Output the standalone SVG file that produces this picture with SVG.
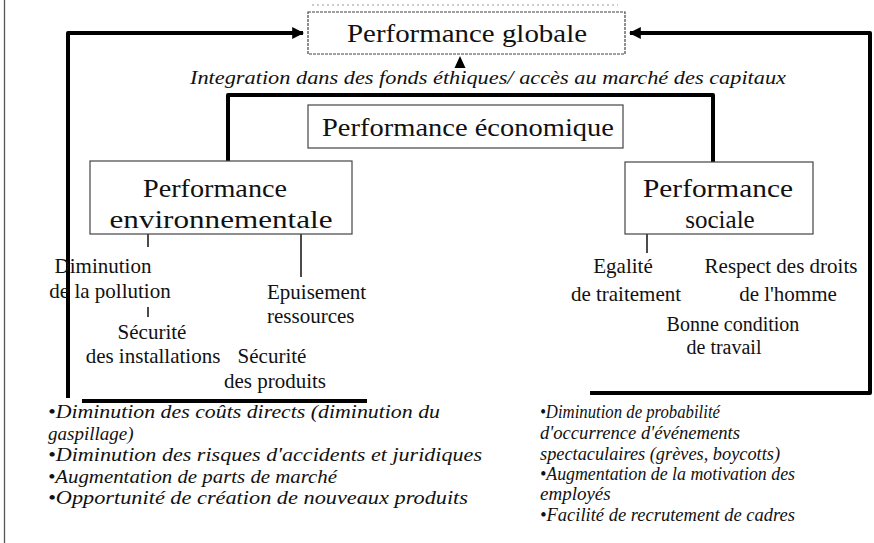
<svg xmlns="http://www.w3.org/2000/svg" width="874" height="543" viewBox="0 0 874 543">
<defs>
<style>
.t{font-family:"Liberation Serif","Times New Roman",serif;fill:#111}
.big{font-size:25px}
.mid{font-size:21px}
.it{font-size:19px;font-style:italic}
.box{fill:#fff;stroke:#444;stroke-width:1.2}
.thick{fill:none;stroke:#000;stroke-width:4;stroke-linejoin:round}
.thin{fill:none;stroke:#111;stroke-width:1.5}
</style>
<marker id="ah" viewBox="0 0 10 10" refX="9" refY="5" markerWidth="3" markerHeight="3" orient="auto" markerUnits="strokeWidth">
<path d="M0,0 L10,5 L0,10 z" fill="#000"/>
</marker>
</defs>
<rect width="874" height="543" fill="#fff"/>
<line x1="4.5" y1="0" x2="4.5" y2="543" stroke="#555" stroke-width="1.3"/>
<line x1="312" y1="5" x2="618" y2="5" stroke="#999" stroke-width="1" stroke-dasharray="2,3"/>

<g id="connectors">
<path class="thick" d="M68,398 V33 H303" marker-end="url(#ah)"/>
<path class="thick" d="M590,393 H870 V33 H630" marker-end="url(#ah)"/>
<path class="thick" d="M82,401 H367"/>
<path class="thick" d="M228,162 V95 H713 V162"/>
<path d="M460,56 L465.5,68 L454.5,68 Z" fill="#000"/>
<path class="thin" d="M148,234 V247 M301,234 V277 M148,307 V317 M647,234 V253"/>
</g>

<g id="globale">
<rect class="box" x="308" y="12" width="317" height="42" stroke-dasharray="3,1"/>
<text class="t big" x="467" y="42" text-anchor="middle" textLength="240" lengthAdjust="spacingAndGlyphs">Performance globale</text>
</g>
<g id="label-integration">
<text class="t it" x="190" y="84" textLength="596" lengthAdjust="spacingAndGlyphs">Integration dans des fonds éthiques/ accès au marché des capitaux</text>
</g>
<g id="economique">
<rect class="box" x="308" y="105" width="315" height="43"/>
<text class="t big" x="468" y="136" text-anchor="middle" textLength="292" lengthAdjust="spacingAndGlyphs">Performance économique</text>
</g>
<g id="environnementale">
<rect class="box" x="90" y="161" width="262" height="73"/>
<text class="t big" x="215" y="197" text-anchor="middle" textLength="144" lengthAdjust="spacingAndGlyphs">Performance</text>
<text class="t big" x="221" y="228" text-anchor="middle" textLength="223" lengthAdjust="spacingAndGlyphs">environnementale</text>
</g>
<g id="sociale">
<rect class="box" x="625" y="162" width="188" height="72"/>
<text class="t big" x="718" y="197" text-anchor="middle" textLength="150" lengthAdjust="spacingAndGlyphs">Performance</text>
<text class="t big" x="720" y="228" text-anchor="middle">sociale</text>
</g>

<g id="pollution">
<text class="t mid" x="103" y="273" text-anchor="middle">Diminution</text>
<text class="t mid" x="110" y="298" text-anchor="middle">de la pollution</text>
</g>
<g id="epuisement">
<text class="t mid" x="267" y="299">Epuisement</text>
<text class="t mid" x="267" y="323">ressources</text>
</g>
<g id="installations">
<text class="t mid" x="152" y="339" text-anchor="middle">Sécurité</text>
<text class="t mid" x="153" y="363" text-anchor="middle">des installations</text>
</g>
<g id="produits">
<text class="t mid" x="272" y="363" text-anchor="middle">Sécurité</text>
<text class="t mid" x="275" y="388" text-anchor="middle">des produits</text>
</g>
<g id="egalite">
<text class="t mid" x="623" y="273" text-anchor="middle">Egalité</text>
<text class="t mid" x="626" y="301" text-anchor="middle">de traitement</text>
</g>
<g id="droits">
<text class="t mid" x="781" y="273" text-anchor="middle">Respect des droits</text>
<text class="t mid" x="788" y="301" text-anchor="middle">de l'homme</text>
</g>
<g id="condition">
<text class="t" font-size="20" x="733" y="331" text-anchor="middle">Bonne condition</text>
<text class="t" font-size="20" x="724" y="354" text-anchor="middle">de travail</text>
</g>

<g id="benefices-env">
<text class="t it" x="48" y="418" textLength="392" lengthAdjust="spacingAndGlyphs">•Diminution des coûts directs (diminution du</text>
<text class="t it" x="48" y="439.5">gaspillage)</text>
<text class="t it" x="48" y="461" textLength="434" lengthAdjust="spacingAndGlyphs">•Diminution des risques d'accidents et juridiques</text>
<text class="t it" x="48" y="482.5" textLength="289" lengthAdjust="spacingAndGlyphs">•Augmentation de parts de marché</text>
<text class="t it" x="48" y="504" textLength="420" lengthAdjust="spacingAndGlyphs">•Opportunité de création de nouveaux produits</text>
</g>
<g id="benefices-soc">
<text class="t it" x="540" y="418" textLength="180" lengthAdjust="spacingAndGlyphs">•Diminution de probabilité</text>
<text class="t it" x="540" y="439" textLength="200" lengthAdjust="spacingAndGlyphs">d'occurrence d'événements</text>
<text class="t it" x="540" y="460" textLength="240" lengthAdjust="spacingAndGlyphs">spectaculaires (grèves, boycotts)</text>
<text class="t it" x="540" y="480" textLength="255" lengthAdjust="spacingAndGlyphs">•Augmentation de la motivation des</text>
<text class="t it" x="540" y="500">employés</text>
<text class="t it" x="540" y="521" textLength="255" lengthAdjust="spacingAndGlyphs">•Facilité de recrutement de cadres</text>
</g>
</svg>
